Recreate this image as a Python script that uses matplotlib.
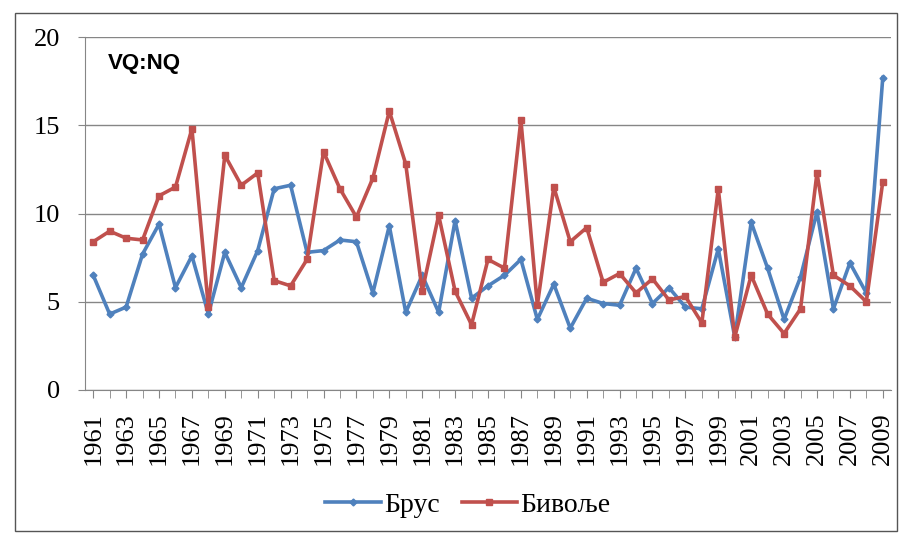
import numpy as np
import matplotlib
matplotlib.use("Agg")
import matplotlib.pyplot as plt
from matplotlib.patches import Rectangle

years = list(range(1961, 2010))

# VQ:NQ ratio, Брус
brus = [6.5, 4.3, 4.7, 7.7, 9.4, 5.8, 7.6, 4.3, 7.8, 5.8,
        7.9, 11.4, 11.6, 7.8, 7.9, 8.5, 8.4, 5.5, 9.3, 4.4,
        6.5, 4.4, 9.6, 5.2, 5.9, 6.5, 7.4, 4.0, 6.0, 3.5,
        5.2, 4.9, 4.8, 6.9, 4.9, 5.8, 4.7, 4.6, 8.0, 3.0,
        9.5, 6.9, 4.0, 6.4, 10.1, 4.6, 7.2, 5.5, 17.7]

# VQ:NQ ratio, Бивоље
bivolje = [8.4, 9.0, 8.6, 8.5, 11.0, 11.5, 14.8, 4.7, 13.3, 11.6,
           12.3, 6.2, 5.9, 7.4, 13.5, 11.4, 9.8, 12.0, 15.8, 12.8,
           5.6, 9.9, 5.6, 3.7, 7.4, 6.9, 15.3, 4.8, 11.5, 8.4,
           9.2, 6.1, 6.6, 5.5, 6.3, 5.1, 5.3, 3.8, 11.4, 3.0,
           6.5, 4.3, 3.2, 4.6, 12.3, 6.5, 5.9, 5.0, 11.8]

serif = "Liberation Serif"

fig = plt.figure(figsize=(9.03, 5.38), dpi=100)
ax = fig.add_axes([85 / 903, 1 - 390 / 538, 806 / 903, 353 / 538])

ax.plot(years, brus, "-D", color="#4F81BD", lw=2.6, ms=3.5, label="Брус")
ax.plot(years, bivolje, "-s", color="#C0504D", lw=2.6, ms=4.5, label="Бивоље")

ax.set_xlim(1960.5, 2009.5)
ax.set_ylim(0, 20)
ax.set_yticks([0, 5, 10, 15, 20])
ax.set_xticks(years[::2])
ax.set_xticks(years, minor=True)
ax.yaxis.grid(True, color="#868686", lw=1)
ax.set_axisbelow(True)
for s in ["top", "right"]:
    ax.spines[s].set_visible(False)
ax.spines["left"].set_color("#868686")
ax.spines["bottom"].set_color("#868686")
ax.tick_params(axis="y", length=5, color="#868686", labelsize=19, pad=13)
ax.tick_params(axis="x", which="both", length=6, color="#868686",
               labelsize=19, rotation=90, pad=10)
for lab in ax.get_xticklabels() + ax.get_yticklabels():
    lab.set_fontfamily(serif)

ax.text(0.028, 0.955, "VQ:NQ", transform=ax.transAxes, fontsize=16,
        fontweight="bold", family="Liberation Sans", va="top", ha="left")

leg = fig.legend(loc="center", bbox_to_anchor=(0.518, 1 - 505 / 538), ncol=2,
                 frameon=False, prop={"family": serif, "size": 20},
                 handlelength=2.0, columnspacing=0.8, handletextpad=0.1)

fig.patches.append(Rectangle((15 / 903, 1 - 531 / 538), 882 / 903, 518 / 538,
                             transform=fig.transFigure, fill=False,
                             edgecolor="#555555", lw=1))

fig.savefig("out.png", dpi=100)
